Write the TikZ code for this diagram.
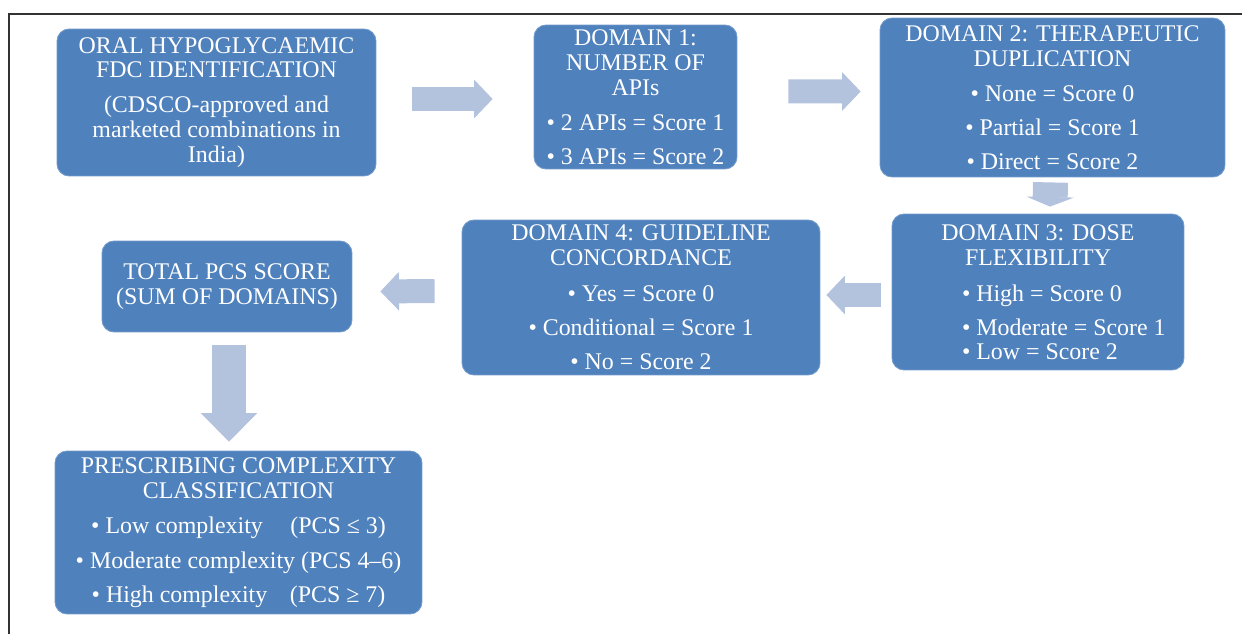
\documentclass[tikz,border=0pt]{standalone}
\usepackage{fontspec}
\setmainfont{Liberation Serif}
\usetikzlibrary{arrows.meta, calc}

\definecolor{boxblue}{HTML}{4F81BD}
\definecolor{arrowblue}{HTML}{B3C3DE}

\begin{document}
\begin{tikzpicture}[
    x=0.02cm, y=-0.02cm,
    stage/.style={draw=boxblue!80!white, line width=0.5pt, fill=boxblue, rounded corners=0.24cm, text=white, align=center, inner sep=0pt, font=\fontsize{13.6}{14.2}\selectfont},
    fatarrow/.style={draw=arrowblue, line width=0.48cm, -{Triangle[length=0.37cm, width=0.77cm, line width=0.6pt]}},
    frame/.style={draw=black!80, line width=0.8pt}
]
\useasboundingbox (0,0) rectangle (1242,634);

% Page frame
\draw[frame] (9,634) -- (9,14) -- (1242,14);

% Top row
\node[stage, minimum width=6.38cm, minimum height=2.94cm] (oral) at (216.5,102.5) {ORAL HYPOGLYCAEMIC\\FDC IDENTIFICATION\\[5.6pt] (CDSCO-approved and\\marketed combinations in\\India)};
\node[stage, minimum width=4.06cm, minimum height=2.88cm] (dom1) at (635.5,97) {DOMAIN 1:\\NUMBER OF\\APIs\\[5.7pt]• 2 APIs = Score 1\\[5.1pt]• 3 APIs = Score 2};
\node[stage, minimum width=6.9cm, minimum height=3.18cm] (dom2) at (1052.5,97.5) {DOMAIN 2: THERAPEUTIC\\DUPLICATION\\[5.7pt]• None = Score 0\\[5.1pt]• Partial = Score 1\\[5.1pt]• Direct = Score 2};

% Middle row
\node[stage, minimum width=5.84cm, minimum height=3.12cm] (dom3) at (1038,292) {DOMAIN 3: DOSE\\FLEXIBILITY\\[6.3pt]\hspace*{0.96cm}\makebox[4cm][l]{• High = Score 0}\\[5.1pt]\hspace*{0.96cm}\makebox[4cm][l]{• Moderate = Score 1}\\[-0.6pt]\hspace*{0.96cm}\makebox[4cm][l]{• Low = Score 2}};
\node[stage, minimum width=7.16cm, minimum height=3.1cm] (dom4) at (641,297.5) {DOMAIN 4: GUIDELINE\\CONCORDANCE\\[6.3pt]• Yes = Score 0\\[5.1pt]• Conditional = Score 1\\[5.1pt]• No = Score 2};
\node[stage, minimum width=5cm, minimum height=1.82cm] (total) at (227,286.5) {TOTAL PCS SCORE\\(SUM OF DOMAINS)};

% Bottom
\node[stage, minimum width=7.34cm, minimum height=3.26cm] (presc) at (238.5,532.5) {PRESCRIBING COMPLEXITY\\CLASSIFICATION\\[5.7pt]• Low complexity\hspace{0.55cm}(PCS ≤ 3)\\[5.7pt]• Moderate complexity (PCS 4--6)\\[5.1pt]• High complexity\hspace{0.45cm}(PCS ≥ 7)};

% Arrows
\draw[fatarrow] ($(oral.east)+(36,-3.5)$) -- ($(dom1.west)+(-41,2)$);
\draw[fatarrow] ($(dom1.east)+(51,-5.5)$) -- ($(dom2.west)+(-19,-6)$);
\draw[fatarrow, line width=0.7cm, -{Triangle[length=0.19cm, width=0.95cm, line width=0.6pt]}] ($(dom2.south)+(-2,5)$) -- ($(dom3.north)+(12,-7)$);
\draw[fatarrow] ($(dom3.west)+(-11,3)$) -- ($(dom4.east)+(6,-2.5)$);
\draw[fatarrow] ($(dom4.west)+(-27,-6.5)$) -- ($(total.east)+(28,5)$);
\draw[fatarrow, line width=0.68cm, -{Triangle[length=0.57cm, width=1.13cm, line width=0.6pt]}] ($(total.south)+(2,13)$) -- ($(presc.north)+(-9.5,-9)$);

\end{tikzpicture}
\end{document}
